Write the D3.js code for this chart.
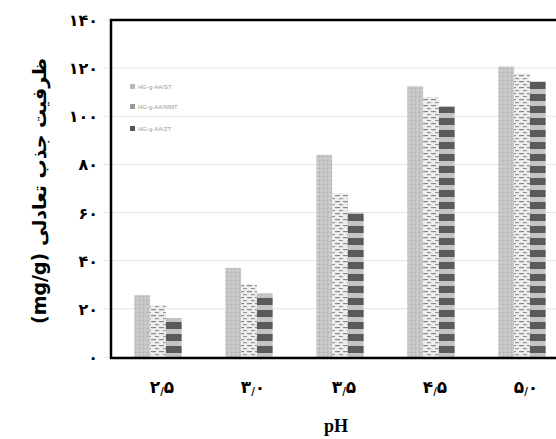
<!DOCTYPE html>
<html>
<head>
<meta charset="utf-8">
<script src="https://cdn.jsdelivr.net/npm/d3@7"></script>
<style>
  body { margin: 0; background: #fff; }
  svg { display: block; }
</style>
</head>
<body>
<div id="wrapper"></div>
<script>
// data
const categories = ["۲/۵", "۳/۰", "۳/۵", "۴/۵", "۵/۰"];
const seriesNames = ["HG-g-AA/ST", "HG-g-AA/MMT", "HG-g-AA/ZT"];
const series1 = [25.7, 37, 84, 112.5, 120.7];
const series2 = [21.6, 30.3, 68, 108, 117.8];
const series3 = [16.2, 26.5, 60, 104, 114.5];
const yTicks = [0, 20, 40, 60, 80, 100, 120, 140];
const faDigits = "۰۱۲۳۴۵۶۷۸۹";

function toFa(n) {
    return String(n).replace(/\d/g, d => faDigits[+d]);
}

const dimension = {
    width: 556,
    height: 439,
    margin: { top: 20, right: -8, bottom: 81, left: 111 }
};
dimension.boundedWidth = dimension.width - dimension.margin.left - dimension.margin.right;
dimension.boundedHeight = dimension.height - dimension.margin.top - dimension.margin.bottom;

const wrapper = d3.select("#wrapper")
    .append("svg")
    .attr("width", dimension.width)
    .attr("height", dimension.height);

// fill patterns for the three series
const defs = wrapper.append("defs");
const p1 = defs.append("pattern").attr("id", "pat0")
    .attr("patternUnits", "userSpaceOnUse").attr("width", 4).attr("height", 4);
p1.append("rect").attr("width", 4).attr("height", 4).attr("fill", "#c6c6c6");
p1.append("rect").attr("x", 0).attr("y", 0).attr("width", 1).attr("height", 1).attr("fill", "#aaaaaa");
p1.append("rect").attr("x", 2).attr("y", 2).attr("width", 1).attr("height", 1).attr("fill", "#dadada");

const p2 = defs.append("pattern").attr("id", "pat1")
    .attr("patternUnits", "userSpaceOnUse").attr("width", 8).attr("height", 6);
p2.append("rect").attr("width", 8).attr("height", 6).attr("fill", "#eeeeee");
p2.append("rect").attr("x", 0).attr("y", 1).attr("width", 5).attr("height", 1.2).attr("fill", "#8a8a8a");
p2.append("rect").attr("x", 4).attr("y", 4).attr("width", 5).attr("height", 1.2).attr("fill", "#9a9a9a");

const p3 = defs.append("pattern").attr("id", "pat2")
    .attr("patternUnits", "userSpaceOnUse").attr("width", 8).attr("height", 12);
p3.append("rect").attr("width", 8).attr("height", 12).attr("fill", "#c4c4c4");
p3.append("rect").attr("x", 0).attr("y", 2).attr("width", 8).attr("height", 7).attr("fill", "#5a5a5a");

const bounds = wrapper.append("g")
    .attr("transform", `translate(${dimension.margin.left},${dimension.margin.top})`);

const yScale = d3.scaleLinear()
    .domain([0, 140])
    .range([dimension.boundedHeight - 1, 0]);

const xScale = d3.scaleBand()
    .domain(categories)
    .range([1.5, 456.5])
    .paddingInner(0.48)
    .paddingOuter(0.24);

const xSub = d3.scaleBand()
    .domain([0, 1, 2])
    .range([0, xScale.bandwidth()]);

// faint grid
bounds.append("g")
    .selectAll("line")
    .data(yTicks)
    .enter()
    .append("line")
    .attr("x1", -8)
    .attr("x2", dimension.boundedWidth)
    .attr("y1", d => yScale(d))
    .attr("y2", d => yScale(d))
    .attr("stroke", "#e6e6e6")
    .attr("stroke-width", 1);

const allSeries = [series1, series2, series3];
const data = [];
categories.forEach((c, i) => {
    allSeries.forEach((s, k) => data.push({ cat: c, k: k, v: s[i] }));
});

bounds.append("g")
    .selectAll("rect")
    .data(data)
    .enter()
    .append("rect")
    .attr("x", d => xScale(d.cat) + xSub(d.k))
    .attr("y", d => yScale(d.v))
    .attr("width", xSub.bandwidth())
    .attr("height", d => yScale(0) - yScale(d.v))
    .attr("fill", d => `url(#pat${d.k})`);

// frame
bounds.append("rect")
    .attr("x", 0)
    .attr("y", 0)
    .attr("width", dimension.boundedWidth + 10)
    .attr("height", dimension.boundedHeight)
    .attr("fill", "none")
    .attr("stroke", "#000")
    .attr("stroke-width", 2.5);

// legend
const legend = bounds.append("g")
    .attr("transform", "translate(19,67)")
    .selectAll("g")
    .data(seriesNames)
    .enter()
    .append("g")
    .attr("transform", (d, i) => `translate(0,${[0, 20, 42][i]})`);
legend.append("rect")
    .attr("x", 0).attr("y", -3)
    .attr("width", 5).attr("height", 5)
    .attr("fill", (d, i) => ["#b8b8b8", "#9a9a9a", "#555"][i]);
legend.append("text")
    .attr("x", 8)
    .attr("y", 2)
    .text(d => d)
    .style("font-family", "Liberation Sans, sans-serif")
    .style("font-size", "6px")
    .style("fill", "#9a9a9a");

// y tick labels
wrapper.append("g")
    .attr("transform", `translate(${dimension.margin.left - 13},${dimension.margin.top})`)
    .selectAll("text")
    .data(yTicks)
    .enter()
    .append("text")
    .attr("y", d => yScale(d) + 6)
    .text(d => toFa(d))
    .style("text-anchor", "end")
    .style("font-family", "DejaVu Sans, sans-serif")
    .style("font-weight", "bold")
    .style("font-size", "16px");

// x tick labels, slash drawn smaller like the original
const xLabels = wrapper.append("g")
    .attr("transform", `translate(${dimension.margin.left},${dimension.height - 46})`)
    .selectAll("text")
    .data(categories)
    .enter()
    .append("text")
    .attr("x", d => xScale(d) + xScale.bandwidth() / 2 + 4)
    .style("text-anchor", "middle")
    .style("font-family", "DejaVu Sans, sans-serif")
    .style("font-weight", "bold")
    .style("font-size", "17px");
xLabels.each(function(d) {
    const parts = d.split("/");
    const t = d3.select(this);
    t.append("tspan").text(parts[0]);
    t.append("tspan").text("/").style("font-size", "10px").attr("dy", 2);
    t.append("tspan").text(parts[1]).attr("dy", -2);
});

// axis titles
wrapper.append("text")
    .attr("x", 336)
    .attr("y", 432)
    .text("pH")
    .style("text-anchor", "middle")
    .style("font-family", "Liberation Serif, serif")
    .style("font-weight", "bold")
    .style("font-size", "18px");

wrapper.append("text")
    .attr("transform", "translate(46,191) rotate(-90)")
    .text("ظرفیت جذب تعادلی (mg/g)")
    .style("direction", "rtl")
    .style("text-anchor", "middle")
    .style("font-family", "DejaVu Sans, Liberation Serif, serif")
    .style("font-weight", "bold")
    .style("font-size", "19px");
</script>
</body>
</html>
